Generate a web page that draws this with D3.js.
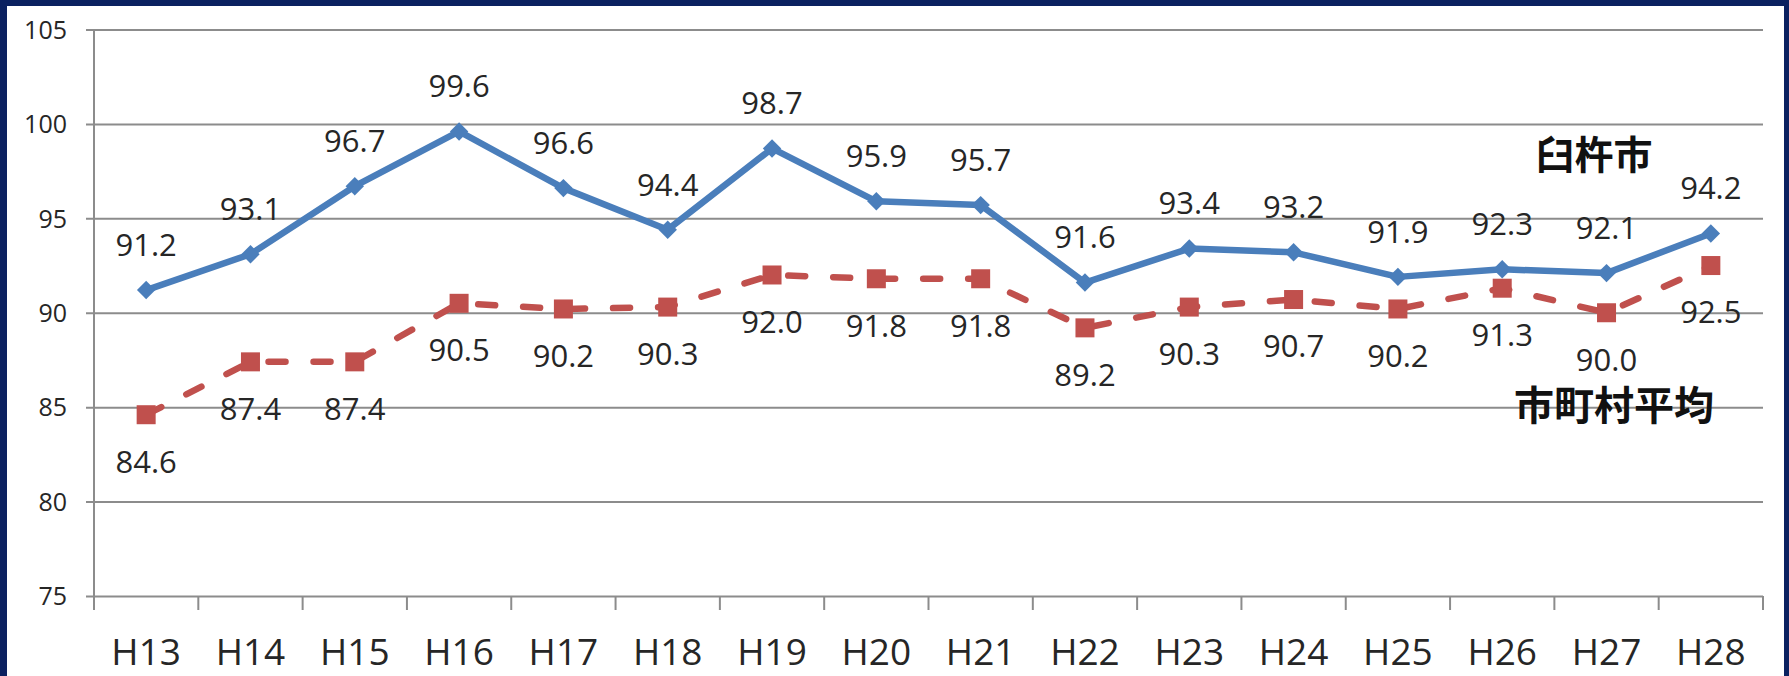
<!DOCTYPE html>
<html>
<head>
<meta charset="utf-8">
<script src="https://cdn.jsdelivr.net/npm/d3@7"></script>
<style>
    html, body { margin: 0; padding: 0; background: #0b2160; }
    svg { display: block; }
    .tick-label { font-family: "Open Sans", sans-serif; fill: #262626; }
    .data-label { font-family: "Open Sans", sans-serif; fill: #262626; }
    .series-name { font-family: "Noto Sans CJK JP", sans-serif; font-weight: bold; fill: #111; }
</style>
</head>
<body>
<svg id="chart"></svg>
<script>
"use strict";

// Data
const years = ['H13', 'H14', 'H15', 'H16', 'H17', 'H18', 'H19', 'H20',
               'H21', 'H22', 'H23', 'H24', 'H25', 'H26', 'H27', 'H28'];
const usukiValues = [91.2, 93.1, 96.7, 99.6, 96.6, 94.4, 98.7, 95.9,
                     95.7, 91.6, 93.4, 93.2, 91.9, 92.3, 92.1, 94.2];
const averageValues = [84.6, 87.4, 87.4, 90.5, 90.2, 90.3, 92.0, 91.8,
                       91.8, 89.2, 90.3, 90.7, 90.2, 91.3, 90.0, 92.5];
const yTicks = [75, 80, 85, 90, 95, 100, 105];
const seriesNames = ['臼杵市', '市町村平均'];

const width = 1789;
const height = 676;

const plot = { left: 94, right: 1763, top: 29.5, bottom: 596 };

const svg = d3.select('#chart')
    .attr('width', width)
    .attr('height', height);

// Navy frame with white panel
svg.append('rect')
    .attr('width', width)
    .attr('height', height)
    .attr('fill', '#0b2160');
svg.append('rect')
    .attr('x', 7)
    .attr('y', 6)
    .attr('width', 1784 - 7)
    .attr('height', height - 6)
    .attr('fill', '#ffffff');

const x = d3.scaleBand()
    .domain(years)
    .range([plot.left, plot.right]);

const y = d3.scaleLinear()
    .domain([75, 105])
    .range([plot.bottom, plot.top]);

const cx = d => x(d) + x.bandwidth() / 2;

// Horizontal gridlines + y tick labels
const yAxis = d3.axisLeft(y)
    .tickValues(yTicks)
    .tickSize(-(plot.right - plot.left))
    .tickPadding(28)
    .tickFormat(d3.format('d'));

const gy = svg.append('g')
    .attr('transform', 'translate(' + plot.left + ',0)')
    .call(yAxis);
gy.select('.domain').remove();
gy.selectAll('.tick line')
    .attr('x1', -8)
    .attr('stroke', '#8c8c8c')
    .attr('stroke-width', 2);
gy.selectAll('.tick text')
    .attr('class', 'tick-label')
    .style('font-size', '25px')
    .attr('x', -27)
    .attr('dy', '0.35em');

// Vertical axis line
svg.append('line')
    .attr('x1', plot.left)
    .attr('x2', plot.left)
    .attr('y1', plot.top)
    .attr('y2', plot.bottom + 14)
    .attr('stroke', '#8c8c8c')
    .attr('stroke-width', 2);

// X axis: ticks between categories
const xAxis = d3.axisBottom(x).tickSize(0).tickPadding(0);
const gx = svg.append('g')
    .attr('transform', 'translate(0,' + plot.bottom + ')')
    .call(xAxis);
gx.select('.domain').remove();
gx.selectAll('.tick text')
    .attr('class', 'tick-label')
    .style('font-size', '37px')
    .attr('y', 69)
    .attr('dy', 0);

const boundaries = years.map(d => x(d) + x.bandwidth()).slice(0, -1);
boundaries.push(plot.right);
svg.append('g')
    .selectAll('line')
    .data(boundaries)
    .enter().append('line')
    .attr('x1', d => d)
    .attr('x2', d => d)
    .attr('y1', plot.bottom)
    .attr('y2', plot.bottom + 14)
    .attr('stroke', '#8c8c8c')
    .attr('stroke-width', 2);

const line = d3.line()
    .x(d => cx(d.year))
    .y(d => y(d.value));

const usuki = years.map((yr, i) => ({ year: yr, value: usukiValues[i] }));
const average = years.map((yr, i) => ({ year: yr, value: averageValues[i] }));

// 臼杵市 series (solid blue, diamonds)
svg.append('path')
    .datum(usuki)
    .attr('d', line)
    .attr('fill', 'none')
    .attr('stroke', '#4a7ebb')
    .attr('stroke-width', 6.5)
    .attr('stroke-linejoin', 'round');

svg.append('g')
    .selectAll('path')
    .data(usuki)
    .enter().append('path')
    .attr('d', d3.symbol().type(d3.symbolSquare).size(170))
    .attr('transform', d => 'translate(' + cx(d.year) + ',' + y(d.value) + ') rotate(45)')
    .attr('fill', '#4a7ebb');

// 市町村平均 series (dashed red, squares)
svg.append('path')
    .datum(average)
    .attr('d', line)
    .attr('fill', 'none')
    .attr('stroke', '#c0504d')
    .attr('stroke-width', 6.5)
    .attr('stroke-linecap', 'round')
    .attr('stroke-dasharray', '17 28');

svg.append('g')
    .selectAll('rect')
    .data(average)
    .enter().append('rect')
    .attr('x', d => cx(d.year) - 9.5)
    .attr('y', d => y(d.value) - 9.5)
    .attr('width', 19)
    .attr('height', 19)
    .attr('fill', '#c0504d');

// Data labels
svg.append('g')
    .selectAll('text')
    .data(usuki)
    .enter().append('text')
    .attr('class', 'data-label')
    .attr('x', d => cx(d.year))
    .attr('y', d => y(d.value) - 45)
    .attr('dy', '0.35em')
    .attr('text-anchor', 'middle')
    .style('font-size', '31px')
    .text(d => d.value.toFixed(1));

svg.append('g')
    .selectAll('text')
    .data(average)
    .enter().append('text')
    .attr('class', 'data-label')
    .attr('x', d => cx(d.year))
    .attr('y', d => y(d.value) + 47)
    .attr('dy', '0.35em')
    .attr('text-anchor', 'middle')
    .style('font-size', '31px')
    .text(d => d.value.toFixed(1));

// Series names placed next to the lines
svg.append('text')
    .attr('class', 'series-name')
    .attr('x', 1594)
    .attr('y', 155)
    .attr('dy', '0.35em')
    .attr('text-anchor', 'middle')
    .style('font-size', '39px')
    .text(seriesNames[0]);

svg.append('text')
    .attr('class', 'series-name')
    .attr('x', 1614)
    .attr('y', 406)
    .attr('dy', '0.35em')
    .attr('text-anchor', 'middle')
    .style('font-size', '40px')
    .text(seriesNames[1]);
</script>
</body>
</html>
